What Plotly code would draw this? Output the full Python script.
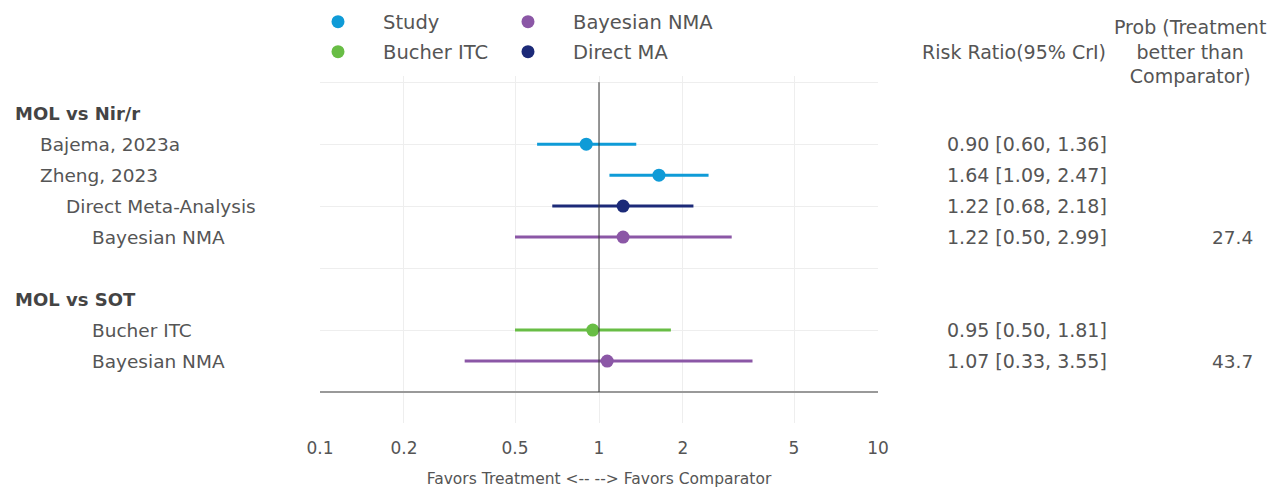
import plotly.graph_objects as go

# Forest plot data (risk ratios with 95% credible intervals)
row_labels = ["Bajema, 2023a", "Zheng, 2023", "Direct Meta-Analysis", "Bayesian NMA",
              "Bucher ITC", "Bayesian NMA"]
row_pos = [8, 7, 6, 5, 2, 1]
row_indent = [40, 40, 66, 92, 92, 92]
row_kind = ["Study", "Study", "Direct MA", "Bayesian NMA", "Bucher ITC", "Bayesian NMA"]
estimate = [0.90, 1.64, 1.22, 1.22, 0.95, 1.07]
lower = [0.60, 1.09, 0.68, 0.50, 0.50, 0.33]
upper = [1.36, 2.47, 2.18, 2.99, 1.81, 3.55]
prob_better = [None, None, None, 27.4, None, 43.7]

group_labels = ["MOL vs Nir/r", "MOL vs SOT"]
group_pos = [9, 3]

x_ticks = [0.1, 0.2, 0.5, 1, 2, 5, 10]

colors = {
    "Study": "#0f9bd7",
    "Bayesian NMA": "#8b57a6",
    "Bucher ITC": "#68bd45",
    "Direct MA": "#1c2a78",
}

FONT = "DejaVu Sans"
TXT = "#555555"
FS = 18.5

W, H = 1280, 488
M_L, M_R, M_T, M_B = 320, 402, 76, 65
PW = W - M_L - M_R
PH = H - M_T - M_B


def px_x(px):
    return (px - M_L) / PW


def px_y(py):
    return (H - M_B - py) / PH


# legend entries laid out as a 2x2 grid: (legend id, left px, centre-y px)
legend_slots = {
    "Study": ("legend", 293, 22),
    "Bayesian NMA": ("legend2", 483, 22),
    "Bucher ITC": ("legend3", 293, 52),
    "Direct MA": ("legend4", 483, 52),
}

fig = go.Figure()

for kind in ["Study", "Bayesian NMA", "Bucher ITC", "Direct MA"]:
    idx = [i for i, k in enumerate(row_kind) if k == kind]
    xs = [estimate[i] for i in idx]
    ys = [row_pos[i] for i in idx]
    fig.add_trace(go.Scatter(
        x=xs, y=ys, mode="markers", name=kind,
        legend=legend_slots[kind][0],
        marker=dict(color=colors[kind], size=13),
        error_x=dict(type="data", symmetric=False,
                     array=[upper[i] - estimate[i] for i in idx],
                     arrayminus=[estimate[i] - lower[i] for i in idx],
                     color=colors[kind], thickness=3, width=0),
    ))

# reference line at RR = 1
fig.add_shape(type="line", x0=1, x1=1, y0=0, y1=10, xref="x", yref="y",
              line=dict(color="#333333", width=1), layer="above")

ann = []
for g, p in zip(group_labels, group_pos):
    ann.append(dict(text="<b>" + g + "</b>", x=px_x(13), xref="paper", y=p, yref="y",
                    xanchor="left", yanchor="middle", showarrow=False,
                    font=dict(size=FS - 0.5, color="#444444", family=FONT)))
for lab, p, ind in zip(row_labels, row_pos, row_indent):
    ann.append(dict(text=lab, x=px_x(ind - 2), xref="paper", y=p, yref="y",
                    xanchor="left", yanchor="middle", showarrow=False,
                    font=dict(size=FS, color=TXT, family=FONT)))
for e, lo, hi, p in zip(estimate, lower, upper, row_pos):
    ann.append(dict(text=f"{e:.2f} [{lo:.2f}, {hi:.2f}]", x=px_x(1109), xref="paper",
                    y=p, yref="y", xanchor="right", yanchor="middle", showarrow=False,
                    font=dict(size=FS + 0.5, color=TXT, family=FONT)))
for pr, p in zip(prob_better, row_pos):
    if pr is not None:
        ann.append(dict(text=f"{pr:.1f}", x=px_x(1255), xref="paper", y=p, yref="y",
                        xanchor="right", yanchor="middle", showarrow=False,
                        font=dict(size=FS, color=TXT, family=FONT)))
ann.append(dict(text="Risk Ratio(95% CrI)", x=px_x(1108), xref="paper", y=px_y(52),
                yref="paper", xanchor="right", yanchor="middle", showarrow=False,
                font=dict(size=FS + 0.5, color=TXT, family=FONT)))
ann.append(dict(text="Prob (Treatment<br>better than<br>Comparator)", x=px_x(1190),
                xref="paper", y=px_y(52), yref="paper", xanchor="center",
                yanchor="middle", showarrow=False, align="center",
                font=dict(size=FS + 0.5, color=TXT, family=FONT)))

legend_layout = {}
for kind, (lid, lx, ly) in legend_slots.items():
    legend_layout[lid] = dict(
        orientation="h", xanchor="left", yanchor="middle",
        x=px_x(lx), y=px_y(ly), itemwidth=80,
        font=dict(size=19.5, color=TXT, family=FONT),
        bgcolor="rgba(0,0,0,0)", itemclick=False, itemdoubleclick=False)

fig.update_layout(
    width=W, height=H,
    margin=dict(l=M_L, r=M_R, t=M_T, b=M_B, autoexpand=False),
    plot_bgcolor="white", paper_bgcolor="white",
    font=dict(family=FONT, color=TXT),
    showlegend=True,
    annotations=ann,
    xaxis=dict(type="log", range=[-1, 1], tickvals=x_ticks,
               ticktext=[f"{v:g}" for v in x_ticks],
               tickfont=dict(size=17, color=TXT, family=FONT),
               showgrid=True, gridcolor="#eeeeee", gridwidth=1,
               zeroline=False, showline=False,
               ticks="outside", ticklen=10, tickcolor="rgba(0,0,0,0)",
               automargin=False,
               title=dict(text="Favors Treatment <-- --> Favors Comparator",
                          font=dict(size=15.5, color=TXT, family=FONT), standoff=21)),
    yaxis=dict(range=[-1, 10.2], tickvals=[0, 2, 4, 6, 8, 10], showticklabels=False,
               showgrid=True, gridcolor="#eeeeee", gridwidth=1,
               zeroline=True, zerolinecolor="#999999", zerolinewidth=2,
               showline=False, ticks="", automargin=False),
    **legend_layout,
)

fig.write_html("out.html")
